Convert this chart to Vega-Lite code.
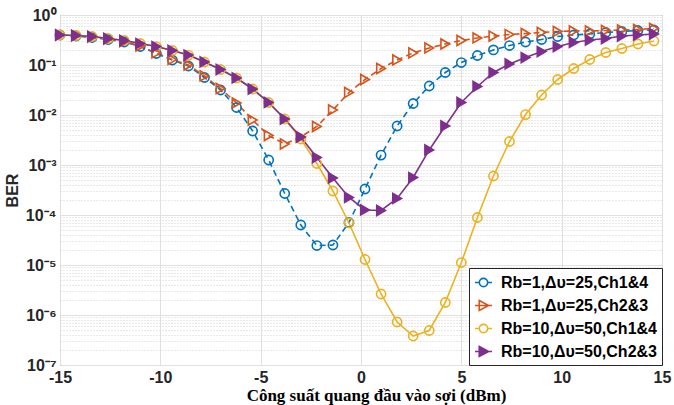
{
"$schema": "https://vega.github.io/schema/vega-lite/v6.json",
"width": 602, "height": 350,
"autosize": {"type": "none"},
"padding": {"left": 60, "top": 15, "right": 12, "bottom": 40},
"background": "white",
"config": {"view": {"stroke": "#6e6e6e", "strokeWidth": 1}, "font": "Liberation Sans"},
"data": {"values": [
{"x":-15,"ber":0.398,"series":"Rb=1,Δυ=25,Ch1&4"},{"x":-14.2,"ber":0.380,"series":"Rb=1,Δυ=25,Ch1&4"},{"x":-13.4,"ber":0.355,"series":"Rb=1,Δυ=25,Ch1&4"},{"x":-12.6,"ber":0.324,"series":"Rb=1,Δυ=25,Ch1&4"},{"x":-11.8,"ber":0.288,"series":"Rb=1,Δυ=25,Ch1&4"},{"x":-11,"ber":0.234,"series":"Rb=1,Δυ=25,Ch1&4"},{"x":-10.2,"ber":0.170,"series":"Rb=1,Δυ=25,Ch1&4"},{"x":-9.4,"ber":0.126,"series":"Rb=1,Δυ=25,Ch1&4"},{"x":-8.6,"ber":0.0955,"series":"Rb=1,Δυ=25,Ch1&4"},{"x":-7.8,"ber":0.0562,"series":"Rb=1,Δυ=25,Ch1&4"},{"x":-7,"ber":0.0316,"series":"Rb=1,Δυ=25,Ch1&4"},{"x":-6.2,"ber":0.0141,"series":"Rb=1,Δυ=25,Ch1&4"},{"x":-5.4,"ber":0.00479,"series":"Rb=1,Δυ=25,Ch1&4"},{"x":-4.6,"ber":0.00126,"series":"Rb=1,Δυ=25,Ch1&4"},{"x":-3.8,"ber":0.000269,"series":"Rb=1,Δυ=25,Ch1&4"},{"x":-3,"ber":0.0000631,"series":"Rb=1,Δυ=25,Ch1&4"},{"x":-2.2,"ber":0.0000245,"series":"Rb=1,Δυ=25,Ch1&4"},{"x":-1.4,"ber":0.0000251,"series":"Rb=1,Δυ=25,Ch1&4"},{"x":-0.6,"ber":0.0000708,"series":"Rb=1,Δυ=25,Ch1&4"},{"x":0.2,"ber":0.000331,"series":"Rb=1,Δυ=25,Ch1&4"},{"x":1,"ber":0.00158,"series":"Rb=1,Δυ=25,Ch1&4"},{"x":1.8,"ber":0.00603,"series":"Rb=1,Δυ=25,Ch1&4"},{"x":2.6,"ber":0.0170,"series":"Rb=1,Δυ=25,Ch1&4"},{"x":3.4,"ber":0.0380,"series":"Rb=1,Δυ=25,Ch1&4"},{"x":4.2,"ber":0.0708,"series":"Rb=1,Δυ=25,Ch1&4"},{"x":5,"ber":0.112,"series":"Rb=1,Δυ=25,Ch1&4"},{"x":5.8,"ber":0.155,"series":"Rb=1,Δυ=25,Ch1&4"},{"x":6.6,"ber":0.200,"series":"Rb=1,Δυ=25,Ch1&4"},{"x":7.4,"ber":0.245,"series":"Rb=1,Δυ=25,Ch1&4"},{"x":8.2,"ber":0.288,"series":"Rb=1,Δυ=25,Ch1&4"},{"x":9,"ber":0.324,"series":"Rb=1,Δυ=25,Ch1&4"},{"x":9.8,"ber":0.372,"series":"Rb=1,Δυ=25,Ch1&4"},{"x":10.6,"ber":0.398,"series":"Rb=1,Δυ=25,Ch1&4"},{"x":11.4,"ber":0.417,"series":"Rb=1,Δυ=25,Ch1&4"},{"x":12.2,"ber":0.447,"series":"Rb=1,Δυ=25,Ch1&4"},{"x":13,"ber":0.468,"series":"Rb=1,Δυ=25,Ch1&4"},{"x":13.8,"ber":0.490,"series":"Rb=1,Δυ=25,Ch1&4"},{"x":14.6,"ber":0.501,"series":"Rb=1,Δυ=25,Ch1&4"},
{"x":-15,"ber":0.398,"series":"Rb=1,Δυ=25,Ch2&3"},{"x":-14.2,"ber":0.389,"series":"Rb=1,Δυ=25,Ch2&3"},{"x":-13.4,"ber":0.363,"series":"Rb=1,Δυ=25,Ch2&3"},{"x":-12.6,"ber":0.331,"series":"Rb=1,Δυ=25,Ch2&3"},{"x":-11.8,"ber":0.295,"series":"Rb=1,Δυ=25,Ch2&3"},{"x":-11,"ber":0.240,"series":"Rb=1,Δυ=25,Ch2&3"},{"x":-10.2,"ber":0.174,"series":"Rb=1,Δυ=25,Ch2&3"},{"x":-9.4,"ber":0.129,"series":"Rb=1,Δυ=25,Ch2&3"},{"x":-8.6,"ber":0.100,"series":"Rb=1,Δυ=25,Ch2&3"},{"x":-7.8,"ber":0.0603,"series":"Rb=1,Δυ=25,Ch2&3"},{"x":-7,"ber":0.0339,"series":"Rb=1,Δυ=25,Ch2&3"},{"x":-6.2,"ber":0.0174,"series":"Rb=1,Δυ=25,Ch2&3"},{"x":-5.4,"ber":0.00794,"series":"Rb=1,Δυ=25,Ch2&3"},{"x":-4.6,"ber":0.00389,"series":"Rb=1,Δυ=25,Ch2&3"},{"x":-3.8,"ber":0.00263,"series":"Rb=1,Δυ=25,Ch2&3"},{"x":-3,"ber":0.00363,"series":"Rb=1,Δυ=25,Ch2&3"},{"x":-2.2,"ber":0.00589,"series":"Rb=1,Δυ=25,Ch2&3"},{"x":-1.4,"ber":0.0126,"series":"Rb=1,Δυ=25,Ch2&3"},{"x":-0.6,"ber":0.0282,"series":"Rb=1,Δυ=25,Ch2&3"},{"x":0.2,"ber":0.0513,"series":"Rb=1,Δυ=25,Ch2&3"},{"x":1,"ber":0.0851,"series":"Rb=1,Δυ=25,Ch2&3"},{"x":1.8,"ber":0.126,"series":"Rb=1,Δυ=25,Ch2&3"},{"x":2.6,"ber":0.174,"series":"Rb=1,Δυ=25,Ch2&3"},{"x":3.4,"ber":0.219,"series":"Rb=1,Δυ=25,Ch2&3"},{"x":4.2,"ber":0.263,"series":"Rb=1,Δυ=25,Ch2&3"},{"x":5,"ber":0.309,"series":"Rb=1,Δυ=25,Ch2&3"},{"x":5.8,"ber":0.347,"series":"Rb=1,Δυ=25,Ch2&3"},{"x":6.6,"ber":0.380,"series":"Rb=1,Δυ=25,Ch2&3"},{"x":7.4,"ber":0.407,"series":"Rb=1,Δυ=25,Ch2&3"},{"x":8.2,"ber":0.427,"series":"Rb=1,Δυ=25,Ch2&3"},{"x":9,"ber":0.447,"series":"Rb=1,Δυ=25,Ch2&3"},{"x":9.8,"ber":0.468,"series":"Rb=1,Δυ=25,Ch2&3"},{"x":10.6,"ber":0.479,"series":"Rb=1,Δυ=25,Ch2&3"},{"x":11.4,"ber":0.479,"series":"Rb=1,Δυ=25,Ch2&3"},{"x":12.2,"ber":0.490,"series":"Rb=1,Δυ=25,Ch2&3"},{"x":13,"ber":0.501,"series":"Rb=1,Δυ=25,Ch2&3"},{"x":13.8,"ber":0.513,"series":"Rb=1,Δυ=25,Ch2&3"},{"x":14.6,"ber":0.537,"series":"Rb=1,Δυ=25,Ch2&3"},
{"x":-15,"ber":0.398,"series":"Rb=10,Δυ=50,Ch1&4"},{"x":-14.2,"ber":0.389,"series":"Rb=10,Δυ=50,Ch1&4"},{"x":-13.4,"ber":0.372,"series":"Rb=10,Δυ=50,Ch1&4"},{"x":-12.6,"ber":0.339,"series":"Rb=10,Δυ=50,Ch1&4"},{"x":-11.8,"ber":0.309,"series":"Rb=10,Δυ=50,Ch1&4"},{"x":-11,"ber":0.269,"series":"Rb=10,Δυ=50,Ch1&4"},{"x":-10.2,"ber":0.234,"series":"Rb=10,Δυ=50,Ch1&4"},{"x":-9.4,"ber":0.195,"series":"Rb=10,Δυ=50,Ch1&4"},{"x":-8.6,"ber":0.158,"series":"Rb=10,Δυ=50,Ch1&4"},{"x":-7.8,"ber":0.115,"series":"Rb=10,Δυ=50,Ch1&4"},{"x":-7,"ber":0.0813,"series":"Rb=10,Δυ=50,Ch1&4"},{"x":-6.2,"ber":0.0550,"series":"Rb=10,Δυ=50,Ch1&4"},{"x":-5.4,"ber":0.0331,"series":"Rb=10,Δυ=50,Ch1&4"},{"x":-4.6,"ber":0.0178,"series":"Rb=10,Δυ=50,Ch1&4"},{"x":-3.8,"ber":0.00832,"series":"Rb=10,Δυ=50,Ch1&4"},{"x":-3,"ber":0.00331,"series":"Rb=10,Δυ=50,Ch1&4"},{"x":-2.2,"ber":0.00107,"series":"Rb=10,Δυ=50,Ch1&4"},{"x":-1.4,"ber":0.000302,"series":"Rb=10,Δυ=50,Ch1&4"},{"x":-0.6,"ber":0.0000692,"series":"Rb=10,Δυ=50,Ch1&4"},{"x":0.2,"ber":0.0000129,"series":"Rb=10,Δυ=50,Ch1&4"},{"x":1,"ber":0.00000263,"series":"Rb=10,Δυ=50,Ch1&4"},{"x":1.8,"ber":0.000000724,"series":"Rb=10,Δυ=50,Ch1&4"},{"x":2.6,"ber":0.00000038,"series":"Rb=10,Δυ=50,Ch1&4"},{"x":3.4,"ber":0.00000049,"series":"Rb=10,Δυ=50,Ch1&4"},{"x":4.2,"ber":0.00000178,"series":"Rb=10,Δυ=50,Ch1&4"},{"x":5,"ber":0.0000112,"series":"Rb=10,Δυ=50,Ch1&4"},{"x":5.8,"ber":0.0000891,"series":"Rb=10,Δυ=50,Ch1&4"},{"x":6.6,"ber":0.000603,"series":"Rb=10,Δυ=50,Ch1&4"},{"x":7.4,"ber":0.00295,"series":"Rb=10,Δυ=50,Ch1&4"},{"x":8.2,"ber":0.0102,"series":"Rb=10,Δυ=50,Ch1&4"},{"x":9,"ber":0.0251,"series":"Rb=10,Δυ=50,Ch1&4"},{"x":9.8,"ber":0.0513,"series":"Rb=10,Δυ=50,Ch1&4"},{"x":10.6,"ber":0.0851,"series":"Rb=10,Δυ=50,Ch1&4"},{"x":11.4,"ber":0.129,"series":"Rb=10,Δυ=50,Ch1&4"},{"x":12.2,"ber":0.178,"series":"Rb=10,Δυ=50,Ch1&4"},{"x":13,"ber":0.214,"series":"Rb=10,Δυ=50,Ch1&4"},{"x":13.8,"ber":0.263,"series":"Rb=10,Δυ=50,Ch1&4"},{"x":14.6,"ber":0.302,"series":"Rb=10,Δυ=50,Ch1&4"},
{"x":-15,"ber":0.398,"series":"Rb=10,Δυ=50,Ch2&3"},{"x":-14.2,"ber":0.389,"series":"Rb=10,Δυ=50,Ch2&3"},{"x":-13.4,"ber":0.372,"series":"Rb=10,Δυ=50,Ch2&3"},{"x":-12.6,"ber":0.339,"series":"Rb=10,Δυ=50,Ch2&3"},{"x":-11.8,"ber":0.309,"series":"Rb=10,Δυ=50,Ch2&3"},{"x":-11,"ber":0.269,"series":"Rb=10,Δυ=50,Ch2&3"},{"x":-10.2,"ber":0.234,"series":"Rb=10,Δυ=50,Ch2&3"},{"x":-9.4,"ber":0.195,"series":"Rb=10,Δυ=50,Ch2&3"},{"x":-8.6,"ber":0.158,"series":"Rb=10,Δυ=50,Ch2&3"},{"x":-7.8,"ber":0.115,"series":"Rb=10,Δυ=50,Ch2&3"},{"x":-7,"ber":0.0813,"series":"Rb=10,Δυ=50,Ch2&3"},{"x":-6.2,"ber":0.0550,"series":"Rb=10,Δυ=50,Ch2&3"},{"x":-5.4,"ber":0.0331,"series":"Rb=10,Δυ=50,Ch2&3"},{"x":-4.6,"ber":0.0178,"series":"Rb=10,Δυ=50,Ch2&3"},{"x":-3.8,"ber":0.00832,"series":"Rb=10,Δυ=50,Ch2&3"},{"x":-3,"ber":0.00363,"series":"Rb=10,Δυ=50,Ch2&3"},{"x":-2.2,"ber":0.00141,"series":"Rb=10,Δυ=50,Ch2&3"},{"x":-1.4,"ber":0.000550,"series":"Rb=10,Δυ=50,Ch2&3"},{"x":-0.6,"ber":0.000224,"series":"Rb=10,Δυ=50,Ch2&3"},{"x":0.2,"ber":0.000126,"series":"Rb=10,Δυ=50,Ch2&3"},{"x":1,"ber":0.000123,"series":"Rb=10,Δυ=50,Ch2&3"},{"x":1.8,"ber":0.000214,"series":"Rb=10,Δυ=50,Ch2&3"},{"x":2.6,"ber":0.000562,"series":"Rb=10,Δυ=50,Ch2&3"},{"x":3.4,"ber":0.00200,"series":"Rb=10,Δυ=50,Ch2&3"},{"x":4.2,"ber":0.00603,"series":"Rb=10,Δυ=50,Ch2&3"},{"x":5,"ber":0.0178,"series":"Rb=10,Δυ=50,Ch2&3"},{"x":5.8,"ber":0.0372,"series":"Rb=10,Δυ=50,Ch2&3"},{"x":6.6,"ber":0.0708,"series":"Rb=10,Δυ=50,Ch2&3"},{"x":7.4,"ber":0.105,"series":"Rb=10,Δυ=50,Ch2&3"},{"x":8.2,"ber":0.141,"series":"Rb=10,Δυ=50,Ch2&3"},{"x":9,"ber":0.186,"series":"Rb=10,Δυ=50,Ch2&3"},{"x":9.8,"ber":0.234,"series":"Rb=10,Δυ=50,Ch2&3"},{"x":10.6,"ber":0.282,"series":"Rb=10,Δυ=50,Ch2&3"},{"x":11.4,"ber":0.316,"series":"Rb=10,Δυ=50,Ch2&3"},{"x":12.2,"ber":0.339,"series":"Rb=10,Δυ=50,Ch2&3"},{"x":13,"ber":0.380,"series":"Rb=10,Δυ=50,Ch2&3"},{"x":13.8,"ber":0.398,"series":"Rb=10,Δυ=50,Ch2&3"},{"x":14.6,"ber":0.417,"series":"Rb=10,Δυ=50,Ch2&3"}
]},
"encoding": {
 "x": {"field": "x", "type": "quantitative",
  "scale": {"domain": [-15, 15], "nice": false},
  "axis": {"values": [-15, -10, -5, 0, 5, 10, 15], "labelExpr": "'' + datum.value",
   "title": "Công suất quang đầu vào sợi (dBm)", "titleFont": "Liberation Serif", "titleFontSize": 17, "titleFontWeight": "bold", "titleColor": "#000000", "titlePadding": 2, "titleX": 316,
   "labelFont": "Liberation Sans", "labelFontSize": 16, "labelFontWeight": "bold", "labelColor": "#262626", "labelPadding": 4, "labelFlush": false, "labelOverlap": false,
   "ticks": false, "domain": false, "grid": true, "gridColor": "#e0e0e0", "gridWidth": 1}},
 "y": {"field": "ber", "type": "quantitative",
  "scale": {"type": "log", "domain": [1e-7, 1], "nice": false},
  "axis": {"values": [1e-7,2e-7,3e-7,4e-7,5e-7,6e-7,7e-7,8e-7,9e-7,1e-6,2e-6,3e-6,4e-6,5e-6,6e-6,7e-6,8e-6,9e-6,1e-5,2e-5,3e-5,4e-5,5e-5,6e-5,7e-5,8e-5,9e-5,1e-4,2e-4,3e-4,4e-4,5e-4,6e-4,7e-4,8e-4,9e-4,0.001,0.002,0.003,0.004,0.005,0.006,0.007,0.008,0.009,0.01,0.02,0.03,0.04,0.05,0.06,0.07,0.08,0.09,0.1,0.2,0.3,0.4,0.5,0.6,0.7,0.8,0.9,1],
   "labelExpr": "abs(log(datum.value)/LN10 - round(log(datum.value)/LN10)) < 0.000001 ? ['10⁰','10⁻¹','10⁻²','10⁻³','10⁻⁴','10⁻⁵','10⁻⁶','10⁻⁷'][-round(log(datum.value)/LN10)] : ''",
   "title": "BER", "titleFont": "Liberation Sans", "titleFontSize": 16, "titleFontWeight": "bold", "titleColor": "#262626", "titlePadding": 5,
   "labelFont": "Liberation Sans", "labelFontSize": 16, "labelFontWeight": "bold", "labelColor": "#262626", "labelPadding": 4, "labelOverlap": false, "labelFlush": false,
   "ticks": false, "domain": false, "grid": true,
   "gridDash": {"condition": {"test": "abs(log(datum.value)/LN10 - round(log(datum.value)/LN10)) < 0.000001", "value": []}, "value": [1, 2]},
   "gridColor": {"condition": {"test": "abs(log(datum.value)/LN10 - round(log(datum.value)/LN10)) < 0.000001", "value": "#e0e0e0"}, "value": "#d2d2d2"}}},
 "color": {"field": "series", "type": "nominal",
  "scale": {"domain": ["Rb=1,Δυ=25,Ch1&4", "Rb=1,Δυ=25,Ch2&3", "Rb=10,Δυ=50,Ch1&4", "Rb=10,Δυ=50,Ch2&3"], "range": ["#0072BD", "#D95319", "#EDB120", "#7E2F8E"]},
  "legend": {"title": null, "orient": "bottom-right", "offset": 0, "fillColor": "white", "strokeColor": "#262626", "padding": 5,
   "labelFont": "Liberation Sans", "labelFontWeight": "bold", "labelFontSize": 16, "labelColor": "#000000",
   "symbolSize": 289, "symbolStrokeWidth": 1.6, "symbolOpacity": 1, "symbolDash": [], "labelOffset": 8, "rowPadding": 5}}
},
"layer": [
 {"transform": [{"filter": {"field": "series", "oneOf": ["Rb=1,Δυ=25,Ch1&4", "Rb=1,Δυ=25,Ch2&3"]}}],
  "mark": {"type": "line", "strokeWidth": 1.6, "strokeDash": [6, 4]}},
 {"transform": [{"filter": {"field": "series", "oneOf": ["Rb=10,Δυ=50,Ch1&4", "Rb=10,Δυ=50,Ch2&3"]}}],
  "mark": {"type": "line", "strokeWidth": 1.6}},
 {"transform": [{"filter": {"field": "series", "oneOf": ["Rb=1,Δυ=25,Ch1&4", "Rb=10,Δυ=50,Ch1&4"]}}],
  "mark": {"type": "point", "shape": "circle", "filled": false, "size": 85, "strokeWidth": 1.6, "opacity": 1},
  "encoding": {"fill": {"field": "series", "type": "nominal",
    "scale": {"domain": ["Rb=1,Δυ=25,Ch1&4", "Rb=1,Δυ=25,Ch2&3", "Rb=10,Δυ=50,Ch1&4", "Rb=10,Δυ=50,Ch2&3"], "range": ["transparent", "transparent", "transparent", "#7E2F8E"]}}}},
 {"transform": [{"filter": {"field": "series", "oneOf": ["Rb=1,Δυ=25,Ch2&3", "Rb=10,Δυ=50,Ch2&3"]}}],
  "mark": {"type": "point", "shape": "triangle-right", "filled": false, "size": 100, "strokeWidth": 1.6, "opacity": 1},
  "encoding": {"fill": {"field": "series", "type": "nominal",
    "scale": {"domain": ["Rb=1,Δυ=25,Ch1&4", "Rb=1,Δυ=25,Ch2&3", "Rb=10,Δυ=50,Ch1&4", "Rb=10,Δυ=50,Ch2&3"], "range": ["transparent", "transparent", "transparent", "#7E2F8E"]}}}},
 {"mark": {"type": "point", "filled": false, "strokeWidth": 1.6, "opacity": 0},
  "encoding": {
   "shape": {"field": "series", "type": "nominal",
    "scale": {"domain": ["Rb=1,Δυ=25,Ch1&4", "Rb=1,Δυ=25,Ch2&3", "Rb=10,Δυ=50,Ch1&4", "Rb=10,Δυ=50,Ch2&3"],
     "range": ["M-1,0H-0.49M0.49,0H1M0.49,0A0.49,0.49,0,1,1,-0.49,0A0.49,0.49,0,1,1,0.49,0", "M-1,0H1M-0.5,-0.58L0.6,0L-0.5,0.58Z", "M-1,0H-0.49M0.49,0H1M0.49,0A0.49,0.49,0,1,1,-0.49,0A0.49,0.49,0,1,1,0.49,0", "M-1,0H1M-0.5,-0.58L0.6,0L-0.5,0.58Z"]}},
   "fill": {"field": "series", "type": "nominal",
    "scale": {"domain": ["Rb=1,Δυ=25,Ch1&4", "Rb=1,Δυ=25,Ch2&3", "Rb=10,Δυ=50,Ch1&4", "Rb=10,Δυ=50,Ch2&3"], "range": ["transparent", "transparent", "transparent", "#7E2F8E"]}}}}
]
}
